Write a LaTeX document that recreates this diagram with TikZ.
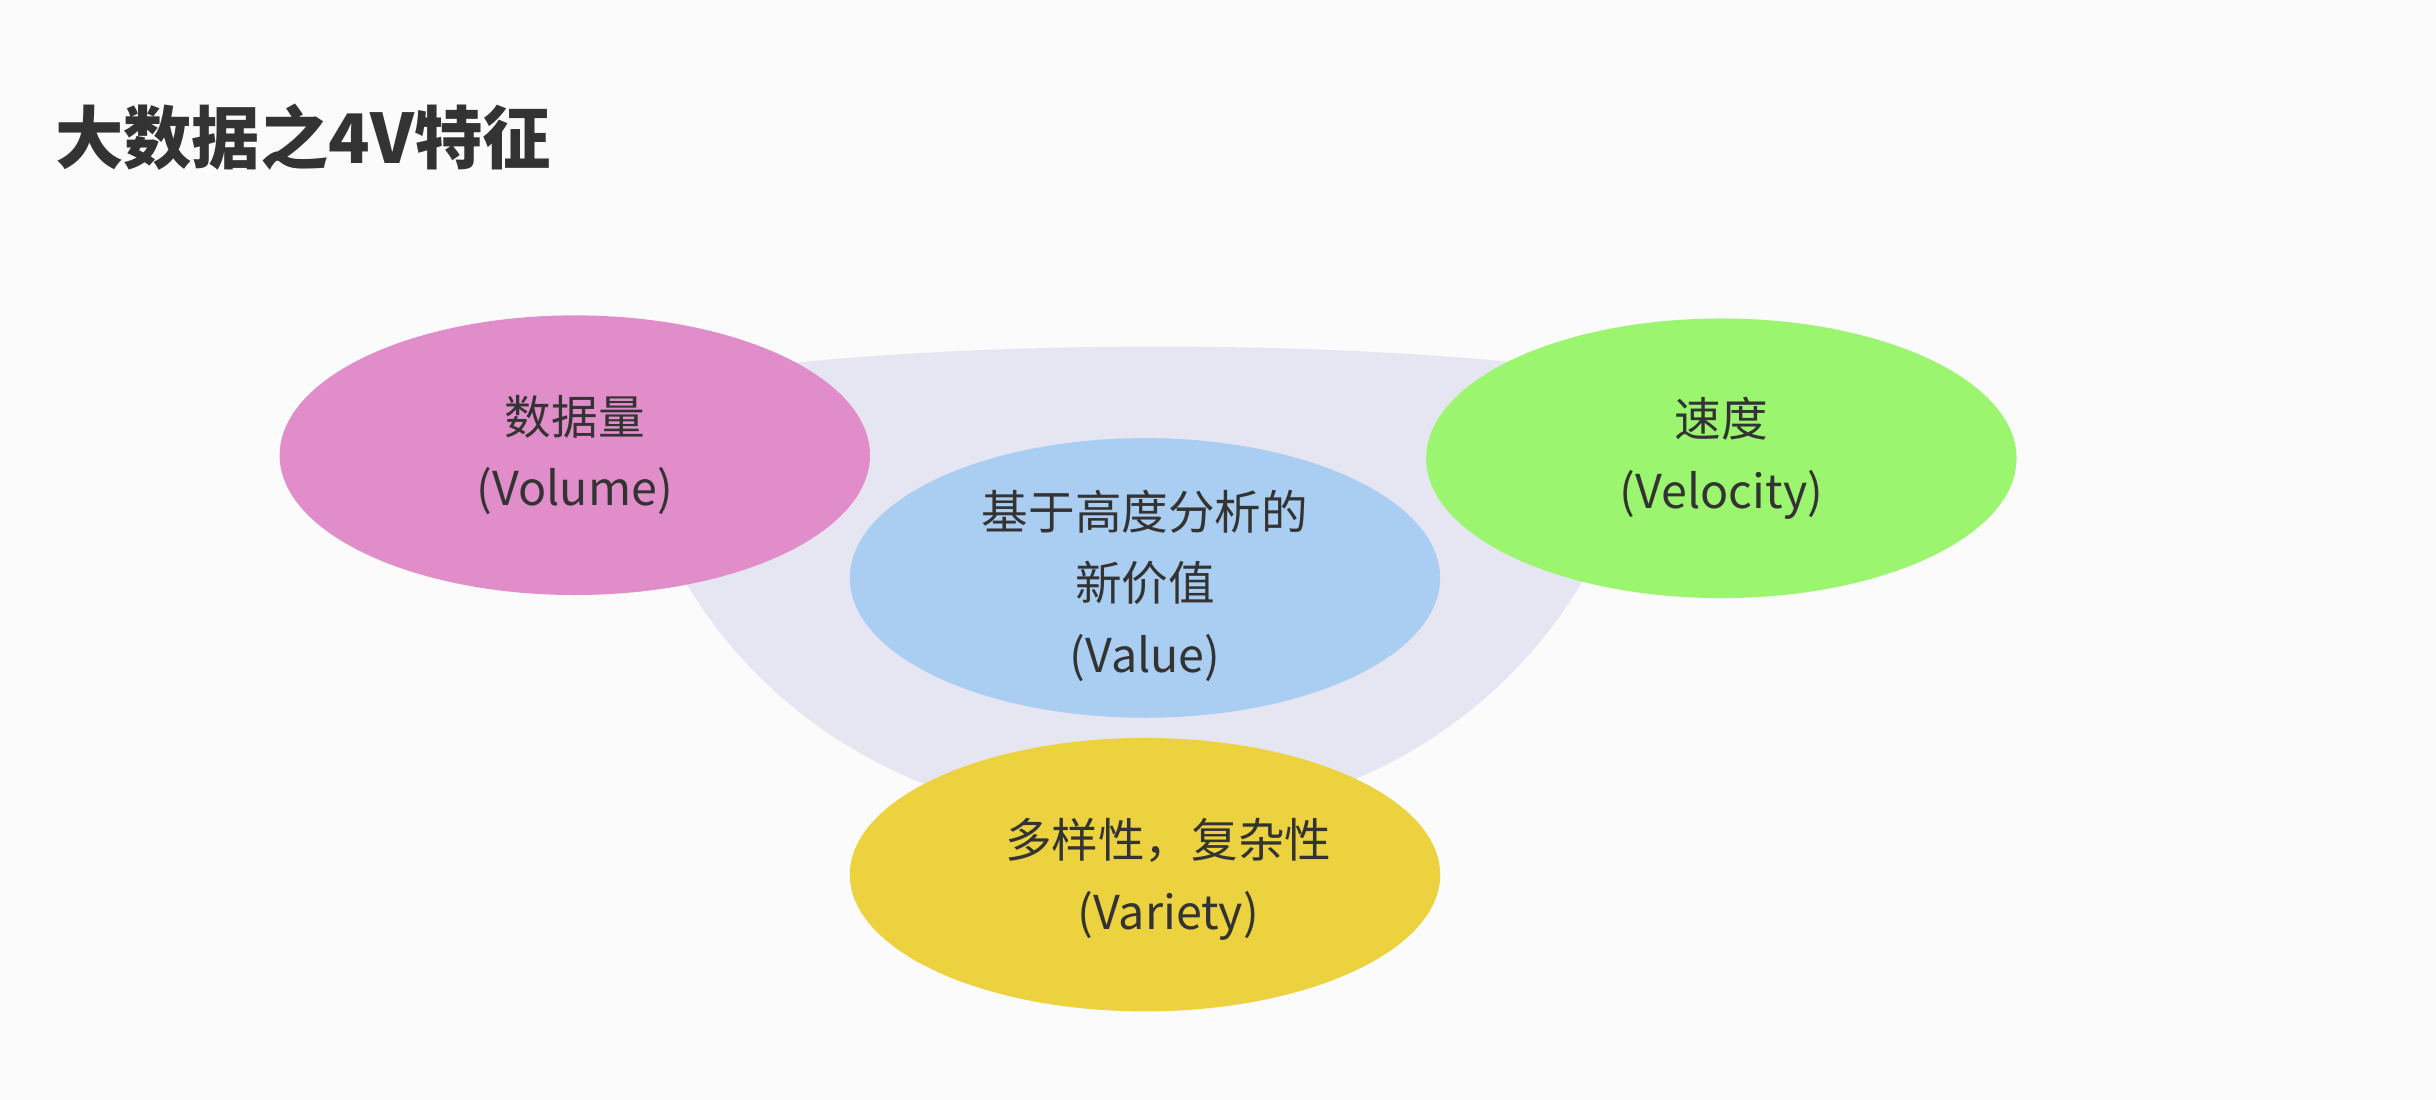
\documentclass[tikz,border=0pt]{standalone}
\usepackage{fontspec}
\setmainfont{Noto Sans CJK SC}
\definecolor{bowl}{HTML}{E6E6F2}
\definecolor{pinkc}{HTML}{E08DC9}
\definecolor{greenc}{HTML}{9BF56F}
\definecolor{bluec}{HTML}{AACDF2}
\definecolor{yellowc}{HTML}{EBD23E}
\definecolor{txt}{HTML}{333333}
\tikzset{oval/.style={ellipse, minimum width=380pt, minimum height=180pt, inner sep=0pt, draw=none},
 lab/.style={align=center, font=\fontsize{30}{46}\selectfont, text=txt}}
\usetikzlibrary{shapes.geometric}
\begin{document}
\begin{tikzpicture}[x=1pt,y=-1pt]
\useasboundingbox (0,0) rectangle (1568,708);
\fill[white!97!gray] (0,0) rectangle (1568,708);
\node[anchor=west, font=\bfseries\fontsize{44}{50}\selectfont, text=txt] (title) at (32,88) {大数据之4V特征};
\fill[bowl] (400,250) .. controls (560,215) and (900,215) .. (1062,245)
  .. controls (1040,420) and (900,530) .. (730,530)
  .. controls (560,530) and (420,420) .. (400,250) -- cycle;
\node[oval, fill=pinkc] (vol) at (370,293) {};
\node[lab] at (370,293) {数据量\\(Volume)};
\node[oval, fill=greenc] (vel) at (1108,295) {};
\node[lab] at (1108,295) {速度\\(Velocity)};
\node[oval, fill=bluec] (val) at (737,372) {};
\node[lab] at (737,377) {基于高度分析的\\新价值\\(Value)};
\node[oval, fill=yellowc, minimum height=176pt] (var) at (737,563) {};
\node[lab] at (752,566) {多样性，复杂性\\(Variety)};
\end{tikzpicture}
\end{document}
